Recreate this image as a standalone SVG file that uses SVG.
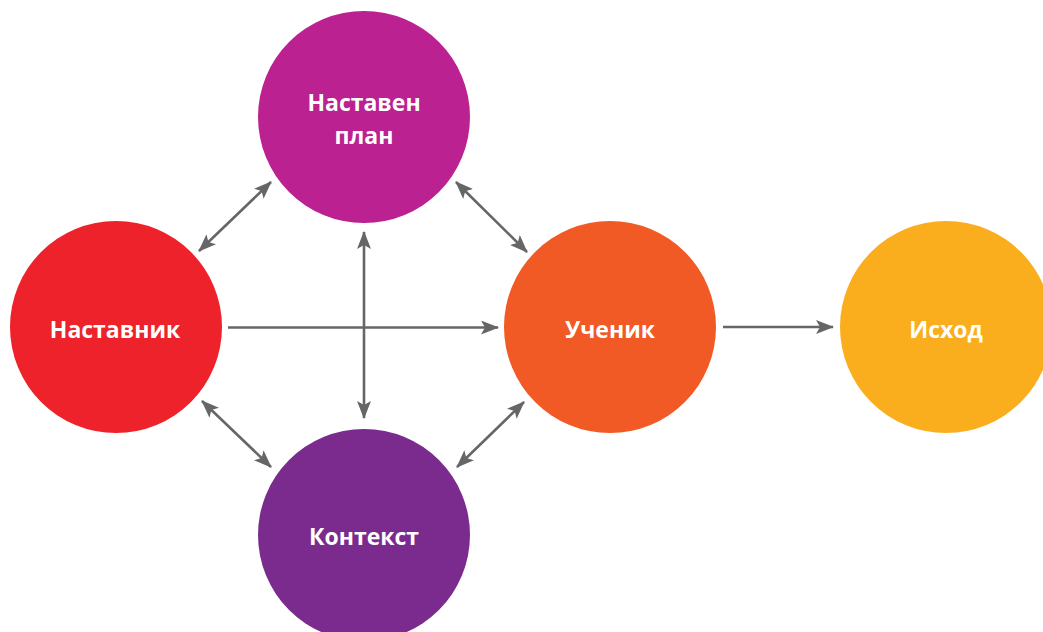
<svg xmlns="http://www.w3.org/2000/svg" width="1043" height="632" viewBox="0 0 1043 632">
<defs>
<marker id="ah" viewBox="0 0 18 14" refX="17" refY="7" markerWidth="18" markerHeight="14" markerUnits="userSpaceOnUse" orient="auto-start-reverse">
<path d="M0,0 L18,7 L0,14 L4,7 Z" fill="#666666"/>
</marker>
<style>
.lbl{font-family:"Open Sans","Liberation Sans",sans-serif;font-weight:bold;font-size:23px;fill:#ffffff;text-anchor:middle}
.c{stroke:#666666;stroke-width:2.6;fill:none}
.bi{marker-start:url(#ah);marker-end:url(#ah)}
.uni{marker-end:url(#ah)}
</style>
</defs>
<rect width="1043" height="632" fill="#ffffff"/>
<g id="connectors">
<line class="c uni" x1="228" y1="327.5" x2="498" y2="327.5"/>
<line class="c bi" x1="364" y1="232" x2="364" y2="418"/>
<line class="c uni" x1="723" y1="327" x2="833" y2="327"/>
<line class="c bi" x1="199" y1="251" x2="271" y2="182"/>
<line class="c bi" x1="456" y1="182" x2="527" y2="252"/>
<line class="c bi" x1="202" y1="401" x2="271" y2="467"/>
<line class="c bi" x1="524" y1="402" x2="457" y2="467"/>
</g>
<g id="plan">
<circle cx="364" cy="117" r="106" fill="#BB2190"/>
<text class="lbl" x="364" y="111">Наставен</text>
<text class="lbl" x="364" y="144">план</text>
</g>
<g id="mentor">
<circle cx="116" cy="327" r="106" fill="#EE222A"/>
<text class="lbl" x="115" y="338">Наставник</text>
</g>
<g id="student">
<circle cx="610" cy="327" r="106" fill="#F15A24"/>
<text class="lbl" x="610" y="338">Ученик</text>
</g>
<g id="outcome">
<circle cx="946" cy="327" r="106" fill="#FAAE1E"/>
<text class="lbl" x="946" y="338">Исход</text>
</g>
<g id="context">
<circle cx="364" cy="535" r="106" fill="#7B2B8D"/>
<text class="lbl" x="364" y="545">Контекст</text>
</g>
</svg>
